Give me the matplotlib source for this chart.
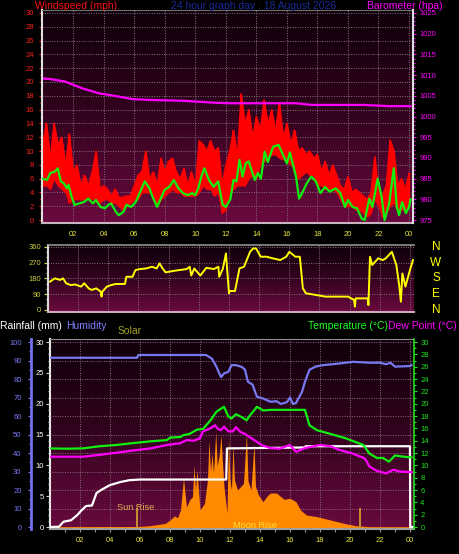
import numpy as np
import matplotlib
matplotlib.use('Agg')
import matplotlib.pyplot as plt
import matplotlib.transforms as mtrans
from matplotlib.colors import LinearSegmentedColormap

plt.rcParams['font.family'] = ['Liberation Sans', 'DejaVu Sans']

# ---- top panel: wind speed (mph) and barometer (hPa) ----
gust_t = np.arange(0, 24.01, 0.25)
gust_hi = [11, 14, 9, 14, 11, 12, 8, 12.5, 7, 8, 5, 6.5, 5, 7, 10, 4.5,
           5, 4.5, 3.5, 4.5, 3.3, 3.3, 3.5, 3.5, 5, 6.5, 7, 10, 6, 7, 5, 9,
           7, 8.5, 9, 7, 6, 7.5, 5, 7, 5, 11.5, 11, 10, 11.5, 10, 10.5, 5,
           8, 10, 13, 9, 18.3, 14, 16, 12, 15, 13, 17.4, 14, 16, 13, 17, 12,
           14, 11, 13, 10, 10.5, 9.5, 10, 9, 9.5, 7, 8.5, 6.5, 8, 6.5, 5, 4.5,
           6.3, 4, 4.5, 4, 3.5, 3, 4, 9.2, 4, 3.5, 5, 11.6, 10, 5, 6, 4.5, 6.8]
gust_lo = [5, 5, 4.5, 6, 5, 4.5, 4, 2.5, 3, 3, 3, 3, 3.3, 3, 3, 2.5,
           3, 3, 2.5, 2.5, 2, 1.5, 2, 2.5, 3, 3, 4, 4, 4, 3.5, 2, 3,
           3.5, 4, 4.5, 4, 4, 3.5, 3.5, 3.5, 3.5, 4, 5, 4.5, 4.5, 3.5, 4, 1,
           1.5, 4, 4.5, 5, 5, 5, 6, 6.5, 6, 8, 8.5, 9, 9.5, 9.5, 9, 8.8,
           8.5, 8, 7.5, 6, 6.5, 7, 6.5, 6.5, 5, 5, 4.5, 4.5, 4.5, 4, 3, 2,
           2, 2, 1.5, 1.5, 1, 0.5, 1, 3, 2, 0.5, 1, 2, 2.5, 1.5, 1.5, 1.5, 2]

wind_t = [0.0, 0.3, 0.5, 0.8, 1.0, 1.2, 1.4, 1.6, 1.7, 1.9, 2.1, 2.4, 2.7, 3.0,
          3.3, 3.5, 3.8, 4.1, 4.3, 4.5, 4.8, 5.0, 5.3, 5.5, 5.8, 6.1, 6.4, 6.7,
          7.0, 7.2, 7.5, 7.8, 8.0, 8.3, 8.6, 8.9, 9.2, 9.5, 9.8, 10.0, 10.2,
          10.4, 10.6, 10.9, 11.2, 11.5, 11.8, 12.0, 12.3, 12.5, 12.7, 12.9,
          13.1, 13.3, 13.5, 13.9, 14.1, 14.3, 14.55, 14.75, 15.1, 15.45, 15.8,
          16.0, 16.2, 16.4, 16.6, 16.8, 17.0, 17.3, 17.6, 17.9, 18.2, 18.5,
          18.8, 19.2, 19.5, 19.8, 20.0, 20.3, 20.6, 20.9, 21.1, 21.4, 21.6,
          21.95, 22.2, 22.4, 22.7, 23.0, 23.2, 23.35, 23.55, 23.8, 24.0, 24.1]
wind_avg = [6.0, 5.8, 6.8, 7.0, 7.5, 5.6, 5.3, 4.6, 5.1, 3.4, 2.2, 2.4, 2.6, 3.1,
            2.4, 2.9, 1.9, 1.7, 2.2, 2.4, 1.2, 0.7, 1.2, 2.2, 1.9, 2.6, 4.1, 5.6,
            4.6, 3.4, 1.9, 3.4, 4.4, 4.8, 5.8, 4.6, 3.9, 3.6, 3.9, 3.6, 4.6,
            6.3, 7.5, 5.8, 4.8, 5.6, 2.2, 1.9, 3.0, 5.8, 5.6, 8.7,
            6.3, 8.2, 8.5, 5.8, 6.8, 6.0, 9.9, 8.4, 10.6, 10.9, 9.2,
            8.2, 9.8, 8.0, 6.3, 3.1, 3.9, 5.3, 6.3, 5.6, 3.9, 4.8,
            4.1, 4.6, 3.9, 1.9, 2.9, 1.9, 1.7, 0.2, 0.0, 3.1, 1.9,
            6.0, 3.4, 0.0, 2.4, 7.5, 1.9, 0.7, 2.6, 1.0, 1.9, 3.0]

baro_t = [0, 0.6, 1.5, 2.6, 3.7, 4.7, 5.9, 7.0, 9.2, 11.4, 12.3, 16.6, 17.6,
          18.7, 21.0, 22.7, 24.1]
baro = [1009.2, 1009.0, 1008.4, 1006.8, 1005.6, 1005.0, 1004.2, 1004.0,
        1003.8, 1003.3, 1003.2, 1003.2, 1002.8, 1002.8, 1002.8, 1002.5, 1002.5]

# ---- middle panel: wind direction (degrees) ----
dir_t = [0.13, 0.45, 0.8, 1.0, 1.2, 1.5, 1.8, 2.2, 2.4, 2.7, 2.9, 3.2, 3.5,
         3.55, 3.6, 3.9, 4.2, 4.5, 5.1, 5.2, 5.6, 5.8, 6.1, 6.5, 6.9, 7.2, 7.4,
         7.6, 7.8, 8.3, 8.7, 9.2, 9.4, 9.5, 9.7, 10.1, 10.5, 11.0, 11.3, 11.35,
         11.6, 11.8, 12.0, 12.05, 12.4, 12.7, 13.0, 13.4, 13.6, 13.8, 14.1,
         14.5, 14.9, 15.4, 15.8, 16.0, 16.4, 16.7, 16.9, 17.1, 17.8, 18.4,
         19.3, 19.9, 20.3, 20.35, 20.4, 20.7, 21.2, 21.25, 21.35, 21.5, 21.9,
         22.2, 22.4, 22.8, 23.1, 23.3, 23.4, 23.5, 23.7, 24.0, 24.2]
wind_dir = [161, 180, 171, 180, 152, 142, 145, 133, 152, 123, 114, 123, 104,
            76, 104, 133, 142, 148, 148, 189, 189, 227, 233, 236, 246, 236, 265,
            236, 214, 222, 227, 233, 246, 196, 236, 196, 240, 233, 246, 189,
            236, 322, 95, 108, 108, 237, 246, 331, 350, 350, 303,
            303, 294, 284, 303, 331, 303, 303, 123, 95, 85, 76,
            76, 76, 57, 19, 66, 66, 66, 28, 303, 256, 294,
            284, 294, 331, 256, 133, 47, 208, 133, 227, 284]

# ---- bottom panel ----
hum_t = [0, 5.8, 5.9, 10.4, 10.8, 11.1, 11.4, 11.6, 11.9, 12.1, 12.4, 12.8,
         13.0, 13.2, 13.5, 13.8, 14.2, 14.7, 15.1, 15.4, 15.8, 16.0, 16.2, 16.4,
         16.8, 17.0, 17.3, 17.7, 18.2, 19.3, 20.2, 21.3, 22.0, 22.4, 22.7, 23.0,
         24.0, 24.1]
humidity = [91.5, 91.5, 93, 93, 91, 86.6, 81, 83, 84, 87.5, 87.5, 86.5,
            85, 78.5, 77, 70.4, 69.5, 67.7, 68, 66.5, 67.5, 70, 66.5, 67,
            73, 78.5, 85, 86.7, 87.5, 88.4, 89.3, 88.8, 88.8, 88, 88.8, 86.7,
            87, 87.5]

temp_t = [0, 1.1, 2.2, 3.3, 4.4, 5.5, 6.7, 7.8, 8.0, 8.7, 8.9, 9.3, 9.6, 9.8,
          10.2, 10.7, 11.1, 11.6, 11.9, 12.1, 12.4, 12.8, 13.1, 13.3, 13.8,
          14.2, 14.7, 15.6, 16.4, 17.0, 17.3, 17.8, 18.7, 19.7, 20.9, 21.3,
          21.8, 22.2, 22.6, 23.0, 23.6, 24.1]
temp = [12.75, 12.7, 12.75, 13.1, 13.3, 13.6, 13.9, 14.1, 14.5, 14.6, 14.9,
        15.1, 15.5, 15.8, 15.9, 17.3, 18.7, 19.5, 17.9, 17.6, 18.3, 17.8, 17.3,
        18.0, 19.5, 18.9, 19.0, 19.0, 19.0, 19.0, 16.5, 15.7, 15.1, 14.4, 13.3,
        11.9, 11.2, 11.2, 10.6, 11.6, 11.4, 11.3]

dew_t = [0, 2.2, 3.3, 5.5, 6.7, 7.8, 8.7, 9.1, 9.6, 10.0, 10.2, 10.7, 11.0,
         11.2, 11.4, 11.6, 11.9, 12.2, 12.4, 12.7, 13.0, 13.3, 13.8, 14.2, 14.7,
         15.3, 16.0, 16.4, 17.0, 18.0, 18.7, 19.3, 20.2, 21.0, 21.3, 21.8, 22.4,
         22.9, 23.3, 24.1]
dew = [11.4, 11.4, 11.7, 12.4, 12.75, 13.3, 13.6, 14.1, 14.0, 14.4, 15.5,
       16.0, 16.5, 15.9, 15.7, 16.3, 15.5, 15.5, 16.2, 15.4, 15.1, 14.6, 13.8,
       13.2, 12.8, 12.7, 13.3, 12.2, 12.8, 13.3, 13.1, 12.5, 11.9, 11.1, 9.8,
       9.1, 8.7, 9.3, 9.0, 8.9]

rain_t = [0, 0.6, 0.9, 1.4, 1.8, 2.1, 2.4, 2.8, 3.1, 3.4, 4.0, 4.7, 5.3, 6.0,
          11.75, 11.8, 17.0, 17.05, 24.0, 24.02, 24.2]
rain = [0, 0.05, 0.86, 1.1, 1.9, 2.7, 3.4, 3.5, 5.5, 6.0, 6.8, 7.3, 7.6, 7.7,
        7.7, 12.75, 12.9, 13.1, 13.1, 0, 0]

solar_t = [0, 5.9, 6.5, 7.0, 7.7, 8.0, 8.3, 8.5, 8.7, 8.9, 9.1, 9.3, 9.5, 9.6,
           9.7, 9.8, 10.0, 10.3, 10.5, 10.6, 10.7, 10.8, 10.9, 11.05, 11.15,
           11.3, 11.4, 11.5, 11.6, 11.8, 11.9, 12.0, 12.1, 12.2, 12.3, 12.5,
           12.7, 12.9, 13.1, 13.2, 13.4, 13.6, 13.7, 13.9, 14.2, 14.5, 14.7,
           15.1, 15.6, 16.0, 16.4, 16.7, 17.1, 17.8, 18.7, 19.6, 20.4, 21.3, 24.2]
solar = [2, 3, 6, 11, 20, 38, 60, 50, 92, 263, 108, 146, 164, 335,
         200, 308, 92, 128, 254, 470, 300, 400, 290, 516, 330,
         400, 498, 350, 218, 76, 480, 254, 200, 444, 254, 200,
         218, 236, 507, 250, 200, 453, 220, 173, 137, 170, 184,
         184, 150, 155, 137, 92, 65, 56, 38, 20, 7, 2, 2]

sun_rise = 5.78
moon_rise = 20.7

hour_ticks = [2, 4, 6, 8, 10, 12, 14, 16, 18, 20, 22, 24]
hour_labels = ['02', '04', '06', '08', '10', '12', '14', '16', '18', '20', '22', '00']

# ---------------------------------------------------------------
W, H = 460, 554
fig = plt.figure(figsize=(W / 100, H / 100), dpi=100, facecolor='black')

bg = LinearSegmentedColormap.from_list('bg', ['#0e000a', '#34031f', '#6a0a3e'])
grid_kw = dict(color='#8c6c80', lw=0.7, ls=(0, (1, 1.5)), zorder=1)
tick_fs = 5.5


def px_axes(left, top, right, bottom):
    return fig.add_axes([left / W, 1 - bottom / H, (right - left) / W, (bottom - top) / H])


def paint(ax):
    ax.set_facecolor('black')
    ax.imshow(np.linspace(0, 1, 256).reshape(-1, 1), cmap=bg, extent=[0, 1, 0, 1],
              transform=ax.transAxes, aspect='auto', zorder=0, origin='upper')


def ftext(x, y, s, color, size=7.5, ha='left'):
    fig.text(x / W, 1 - y / H, s, color=color, fontsize=size, ha=ha, va='center',
             zorder=10)


# ---- top panel ----
ax1 = px_axes(42.5, 10, 413, 223)
paint(ax1)
ax1.set_xlim(0, 24.26)
ax1.set_ylim(-0.43, 30.43)
for h in hour_ticks:
    ax1.axvline(h, **grid_kw)
for v in range(2, 31, 2):
    ax1.axhline(v, **grid_kw)
ax1.fill_between(gust_t, gust_lo, gust_hi, color='#ff0000', lw=0.8, zorder=2)
ax1.vlines(gust_t, gust_lo, gust_hi, color='#ff0000', lw=1.2, zorder=2)
ax1.plot(gust_t, gust_hi, color='#ff0000', lw=0.8, zorder=2)
ax1.plot(wind_t, wind_avg, color='#10f010', lw=1.6, zorder=3)
ax1.set_xticks(hour_ticks)
ax1.set_xticklabels(hour_labels)
ax1.set_yticks(range(0, 31, 2))
ax1.set_yticks(range(1, 31, 2), minor=True)
ax1.tick_params(axis='x', length=0, pad=6, colors='#e6e63a', labelsize=tick_fs)
ax1.tick_params(axis='y', which='both', direction='out', length=2.5, width=0.8,
                colors='#ff2020', labelsize=tick_fs, pad=3.5)
ax1.tick_params(axis='y', which='minor', length=1.5)

axb = ax1.twinx()
axb.set_ylim(975 - 0.43 * 50 / 30, 975 + 30.43 * 50 / 30)
axb.plot(baro_t, baro, color='#ff00ff', lw=1.6, zorder=4)
axb.set_yticks(range(975, 1026, 5))
axb.set_yticks(range(976, 1026, 1), minor=True)
axb.tick_params(axis='y', which='both', direction='out', length=2.5, width=0.8,
                colors='#ff00ff', labelsize=tick_fs, pad=2)
axb.tick_params(axis='y', which='minor', length=1.2)
for a in (ax1, axb):
    for s in a.spines.values():
        s.set_visible(False)
ax1.spines['left'].set_visible(True)
ax1.spines['left'].set_color('#e0e0e0')
ax1.spines['left'].set_linewidth(1.5)
ax1.spines['bottom'].set_visible(True)
ax1.spines['bottom'].set_color('#c8b4c0')
ax1.spines['bottom'].set_linewidth(1.5)
ax1.spines['top'].set_visible(True)
ax1.spines['top'].set_color('#707070')
axb.spines['right'].set_visible(True)
axb.spines['right'].set_color('#e0e0e0')
axb.spines['right'].set_linewidth(1.5)

# ---- middle panel ----
ax2 = px_axes(48, 245, 414, 312)
paint(ax2)
ax2.set_xlim(0, 24.27)
ax2.set_ylim(-11.4, 369.7)
for h in hour_ticks:
    ax2.axvline(h, **grid_kw)
for v in (90, 180, 270, 360):
    ax2.axhline(v, **grid_kw)
ax2.plot(dir_t, wind_dir, color='#ffff00', lw=1.4, zorder=3)
ax2.set_xticks([])
ax2.set_yticks([0, 90, 180, 270, 360])
ax2.set_yticks(range(30, 360, 30), minor=True)
ax2.tick_params(axis='y', which='both', direction='out', length=3, width=0.9,
                colors='#cccc40', labelsize=tick_fs, pad=2)
ax2.tick_params(axis='y', which='minor', length=1.5)
for s in ax2.spines.values():
    s.set_visible(False)
ax2.spines['left'].set_visible(True)
ax2.spines['left'].set_color('#d8d8d8')
ax2.spines['left'].set_linewidth(1.5)
ax2.spines['bottom'].set_visible(True)
ax2.spines['bottom'].set_color('#d0a8bc')
ax2.spines['bottom'].set_linewidth(1.5)
ax2.spines['top'].set_visible(True)
ax2.spines['top'].set_color('#909090')
ax2.spines['top'].set_linewidth(1.2)
blend2 = mtrans.blended_transform_factory(ax2.transAxes, ax2.transData)
for lab, v in zip(['N', 'W', 'S', 'E', 'N'], [360, 270, 180, 90, 0]):
    ax2.text(1.06, v, lab, transform=blend2, color='#ffff00', fontsize=8.5,
             ha='center', va='center', clip_on=False)

# ---- bottom panel ----
ax3 = px_axes(50, 339, 414, 529)
paint(ax3)
ax3.set_xlim(0, 24.27)
ax3.set_ylim(-0.32 / 30 * 1000, 30.49 / 30 * 1000)
for h in hour_ticks:
    ax3.axvline(h, **grid_kw)
for v in range(100, 1001, 100):
    ax3.axhline(v, **grid_kw)
ax3.fill_between(solar_t, ax3.get_ylim()[0], solar, color='#ff8a00', lw=0, zorder=2)
ax3.plot([sun_rise, sun_rise], [ax3.get_ylim()[0], 95], color='#c89030', lw=1.4, zorder=2)
ax3.plot([moon_rise, moon_rise], [ax3.get_ylim()[0], 95], color='#c89030', lw=1.4, zorder=2)
ax3.set_xticks(hour_ticks)
ax3.set_xticklabels(hour_labels)
ax3.set_xticks(range(1, 25, 2), minor=True)
ax3.tick_params(axis='x', which='both', direction='out', length=2, width=0.8,
                colors='#909090', labelcolor='#e6e63a', labelsize=tick_fs, pad=4)
ax3.tick_params(axis='y', left=False, labelleft=False)

axh = ax3.twinx()
axh.set_ylim(-0.32 / 0.3, 30.49 / 0.3)
axh.plot(hum_t, humidity, color='#7878f0', lw=1.6, zorder=3)
axh.yaxis.tick_left()
axh.set_yticks(range(0, 101, 10))
axh.set_yticks(range(5, 100, 10), minor=True)
axh.tick_params(axis='y', which='both', direction='out', length=2.5, width=0.8,
                colors='#7878f0', labelsize=tick_fs, pad=2)
axh.tick_params(axis='y', which='minor', length=1.5)

axr = ax3.twinx()
axr.set_ylim(-0.32, 30.49)
axr.plot(rain_t, rain, color='#ffffff', lw=1.6, zorder=3)
axr.yaxis.tick_left()
axr.set_yticks(range(0, 31, 5))
axr.set_yticks(range(1, 31), minor=True)
axr.tick_params(axis='y', which='both', direction='out', length=3, width=0.8,
                colors='#d0d0d0', labelcolor='#ffffff', labelsize=tick_fs, pad=1.5)
axr.tick_params(axis='y', which='minor', length=1.5)

axt = ax3.twinx()
axt.set_ylim(-0.32, 30.49)
axt.plot(temp_t, temp, color='#10f010', lw=1.6, zorder=4)
axt.plot(dew_t, dew, color='#ff00ff', lw=1.6, zorder=4)
axt.set_yticks(range(0, 31, 2))
axt.set_yticks(range(1, 31, 2), minor=True)
axt.tick_params(axis='y', which='both', direction='out', length=2.5, width=0.8,
                colors='#20e020', labelsize=tick_fs, pad=2)
axt.tick_params(axis='y', which='minor', length=1.5)

for a in (ax3, axh, axr, axt):
    for s in a.spines.values():
        s.set_visible(False)
ax3.spines['left'].set_visible(True)
ax3.spines['left'].set_color('#e8e8e8')
ax3.spines['left'].set_linewidth(1.5)
ax3.spines['bottom'].set_visible(True)
ax3.spines['bottom'].set_color('#a0a0a0')
ax3.spines['bottom'].set_linewidth(1.5)
ax3.spines['top'].set_visible(True)
ax3.spines['top'].set_color('#909090')
axt.spines['right'].set_visible(True)
axt.spines['right'].set_color('#20e020')
axt.spines['right'].set_linewidth(1.2)
axh.spines['left'].set_visible(True)
axh.spines['left'].set_position(('outward', 14))
axh.spines['left'].set_color('#7070f0')
axh.spines['left'].set_linewidth(2)
axh.tick_params(axis='y', pad=4)

# ---- titles and captions ----
ftext(35, 6, 'Windspeed (mph)', '#ff1010')
ftext(171, 6, '24 hour graph day : 18 August 2026', '#1a2a9a')
ftext(367, 6, 'Barometer (hpa)', '#ff00ff')
ftext(0, 326, 'Rainfall (mm)', '#ffffff')
ftext(66, 326, 'Humidity', '#8080ff')
ftext(118, 331, 'Solar', '#a0a020')
ftext(308, 326, 'Temperature (\u00b0C)', '#20ff20')
ftext(388, 326, 'Dew Point (\u00b0C)', '#ff00ff')
ftext(117, 507, 'Sun Rise', '#dcae50', size=6.6)
ftext(233, 526, 'Moon Rise', '#ffe030', size=6.6)

fig.savefig('out.png', dpi=100, facecolor='black')
